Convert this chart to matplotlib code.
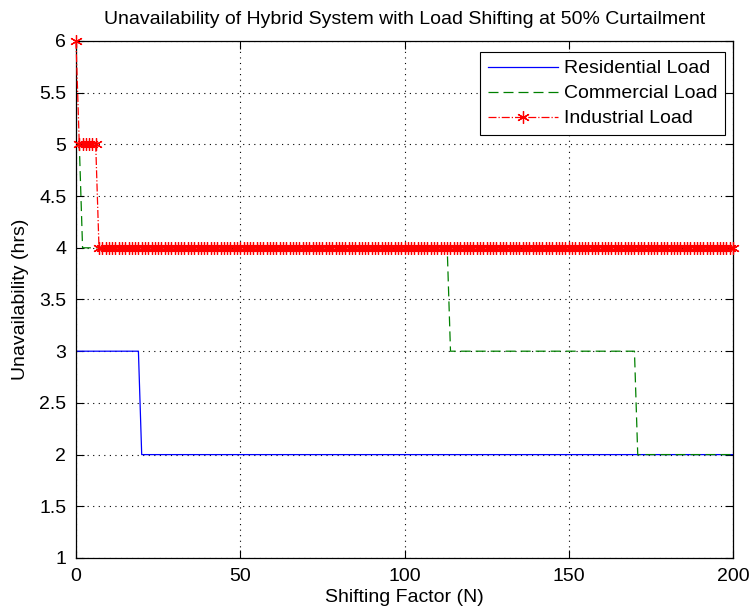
import matplotlib
matplotlib.use('Agg')
import matplotlib.pyplot as plt
import numpy as np

# Shifting factor N, one point per integer step
N = np.arange(0, 201)

# Each load: (unavailability level, first N at which that level applies)
residential_levels = [3, 2]
residential_starts = [0, 20]
commercial_levels = [5, 4, 3, 2]
commercial_starts = [0, 2, 114, 171]
industrial_levels = [6, 5, 4]
industrial_starts = [0, 1, 7]


def step_series(levels, starts):
    ends = starts[1:] + [len(N)]
    counts = [e - s for s, e in zip(starts, ends)]
    return np.repeat(levels, counts)


residential = step_series(residential_levels, residential_starts)
commercial = step_series(commercial_levels, commercial_starts)
industrial = step_series(industrial_levels, industrial_starts)

plt.rcParams['font.family'] = ['Liberation Sans', 'DejaVu Sans']

W, H = 751, 614
fig = plt.figure(figsize=(W / 100, H / 100), dpi=100)
ax = fig.add_axes([76 / W, 1 - 558 / H, 657 / W, 517 / H])

ax.plot(N, residential, color='#0000ff', linestyle='-', linewidth=0.9, label='Residential Load')
ax.plot(N, commercial, color='#008000', linestyle=(0, (8, 4)), linewidth=0.9, label='Commercial Load')
ax.plot(N, industrial, color='#ff0000', linestyle='-.', linewidth=0.9,
        marker=(6, 2, 0), markersize=9, markeredgewidth=0.9, label='Industrial Load',
        clip_on=False, zorder=5)

ax.set_xlim(0, 200)
ax.set_ylim(1, 6)
ax.set_xticks([0, 50, 100, 150, 200])
ax.set_yticks(np.arange(1, 6.01, 0.5))
ax.set_yticklabels(['1', '1.5', '2', '2.5', '3', '3.5', '4', '4.5', '5', '5.5', '6'])
ax.tick_params(direction='in', top=True, right=True, labelsize=14, length=6, width=0.8, pad=7)
ax.grid(True, color='black', linestyle=(0, (1, 4)), linewidth=0.8)
for s in ax.spines.values():
    s.set_linewidth(0.9)

ax.set_title('Unavailability of Hybrid System with Load Shifting at 50% Curtailment',
             fontsize=14, pad=12)
ax.set_xlabel('Shifting Factor (N)', fontsize=14, labelpad=3)
ax.set_ylabel('Unavailability (hrs)', fontsize=14, labelpad=7)

leg = ax.legend(loc='upper right', bbox_to_anchor=((725 - 76) / 657, 1 - 11 / 517),
                fontsize=14, fancybox=False, framealpha=1, edgecolor='black',
                borderaxespad=0, handlelength=3.6, borderpad=0.4,
                labelspacing=0.38, handletextpad=0.3)
leg.get_frame().set_linewidth(0.8)

fig.savefig('out.png', dpi=100)
